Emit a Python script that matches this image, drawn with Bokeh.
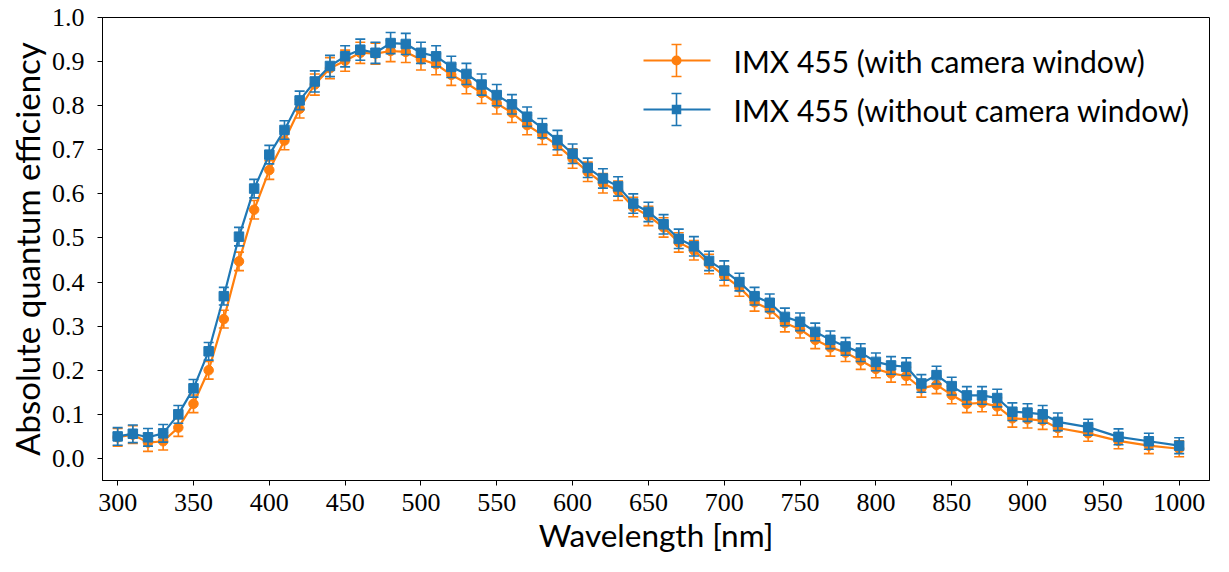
import numpy as np
from bokeh.plotting import figure
from bokeh.models import (Range1d, FixedTicker, NumeralTickFormatter, Label,
                          BoxAnnotation, ColumnDataSource)
from bokeh.embed import file_html
from bokeh.resources import INLINE

# ---------------- data ----------------
wavelength = [300, 310, 320, 330, 340, 350, 360, 370, 380, 390,
              400, 410, 420, 430, 440, 450, 460, 470, 480, 490,
              500, 510, 520, 530, 540, 550, 560, 570, 580, 590,
              600, 610, 620, 630, 640, 650, 660, 670, 680, 690,
              700, 710, 720, 730, 740, 750, 760, 770, 780, 790,
              800, 810, 820, 830, 840, 850, 860, 870, 880, 890,
              900, 910, 920, 940, 960, 980, 1000]

qe_with_window = [0.048, 0.054, 0.036, 0.039, 0.070, 0.124, 0.200, 0.316, 0.447, 0.564,
                  0.654, 0.721, 0.793, 0.848, 0.885, 0.902, 0.920, 0.918, 0.924, 0.922,
                  0.905, 0.894, 0.870, 0.851, 0.829, 0.805, 0.784, 0.756, 0.734, 0.710,
                  0.680, 0.650, 0.624, 0.607, 0.570, 0.550, 0.524, 0.490, 0.472, 0.441,
                  0.414, 0.388, 0.354, 0.338, 0.307, 0.293, 0.269, 0.252, 0.240, 0.222,
                  0.203, 0.193, 0.187, 0.159, 0.167, 0.144, 0.124, 0.126, 0.118, 0.091,
                  0.089, 0.086, 0.069, 0.057, 0.040, 0.029, 0.022]

err_with_window = [0.020, 0.020, 0.020, 0.020, 0.020, 0.020, 0.020, 0.020, 0.021, 0.021,
                   0.021, 0.021, 0.021, 0.024, 0.024, 0.024, 0.024, 0.024, 0.024, 0.024,
                   0.024, 0.024, 0.024, 0.024, 0.024, 0.024, 0.022, 0.022, 0.022, 0.022,
                   0.022, 0.022, 0.022, 0.022, 0.022, 0.022, 0.022, 0.022, 0.022, 0.022,
                   0.022, 0.020, 0.020, 0.020, 0.020, 0.020, 0.020, 0.020, 0.020, 0.020,
                   0.020, 0.020, 0.020, 0.020, 0.020, 0.020, 0.020, 0.020, 0.020, 0.020,
                   0.020, 0.020, 0.020, 0.018, 0.018, 0.018, 0.018]

qe_without_window = [0.050, 0.056, 0.048, 0.057, 0.100, 0.159, 0.243, 0.368, 0.503, 0.612,
                     0.689, 0.745, 0.812, 0.855, 0.890, 0.912, 0.927, 0.920, 0.942, 0.940,
                     0.920, 0.912, 0.888, 0.872, 0.848, 0.824, 0.803, 0.775, 0.749, 0.722,
                     0.691, 0.659, 0.635, 0.617, 0.578, 0.559, 0.531, 0.498, 0.481, 0.448,
                     0.426, 0.400, 0.368, 0.353, 0.321, 0.310, 0.287, 0.269, 0.254, 0.240,
                     0.219, 0.211, 0.208, 0.170, 0.189, 0.164, 0.143, 0.143, 0.137, 0.106,
                     0.104, 0.100, 0.083, 0.071, 0.049, 0.039, 0.029]

err_without_window = [0.020, 0.020, 0.020, 0.020, 0.020, 0.020, 0.020, 0.020, 0.021, 0.021,
                      0.021, 0.021, 0.021, 0.024, 0.024, 0.024, 0.024, 0.024, 0.024, 0.024,
                      0.024, 0.024, 0.024, 0.024, 0.024, 0.024, 0.022, 0.022, 0.022, 0.022,
                      0.022, 0.022, 0.022, 0.022, 0.022, 0.022, 0.022, 0.022, 0.022, 0.022,
                      0.022, 0.020, 0.020, 0.020, 0.020, 0.020, 0.020, 0.020, 0.020, 0.020,
                      0.020, 0.020, 0.020, 0.020, 0.020, 0.020, 0.020, 0.020, 0.020, 0.020,
                      0.020, 0.020, 0.020, 0.018, 0.018, 0.018, 0.018]

x_ticks = [300, 350, 400, 450, 500, 550, 600, 650, 700, 750, 800, 850, 900, 950, 1000]
y_ticks = [0.0, 0.1, 0.2, 0.3, 0.4, 0.5, 0.6, 0.7, 0.8, 0.9, 1.0]

series_labels = ["IMX 455 (with camera window)", "IMX 455 (without camera window)"]
x_label = "Wavelength [nm]"
y_label = "Absolute quantum efficiency"

# ---------------- style ----------------
ORANGE = "#ff7f0e"
BLUE = "#1f77b4"
SANS = "Lato"
SERIF = "Liberation Serif"

p = figure(width=1213, height=556, output_backend="svg", toolbar_location=None,
           x_range=Range1d(290, 1020), y_range=Range1d(-0.05, 1.0),
           min_border_left=102, min_border_right=4, min_border_top=17,
           min_border_bottom=75)
p.background_fill_color = "white"
p.border_fill_color = "white"
p.outline_line_color = "black"
p.outline_line_alpha = 1.0
p.outline_line_width = 1
p.xgrid.visible = False
p.ygrid.visible = False

p.xaxis.ticker = FixedTicker(ticks=x_ticks)
p.yaxis.ticker = FixedTicker(ticks=y_ticks)
p.yaxis.formatter = NumeralTickFormatter(format="0.0")
p.xaxis.axis_label = x_label
p.yaxis.axis_label = y_label
for ax in (p.xaxis, p.yaxis):
    ax.axis_label_text_font = SANS
    ax.axis_label_text_font_style = "normal"
    ax.axis_label_text_color = "black"
    ax.major_label_text_font = SERIF
    ax.major_label_text_font_size = "26px"
    ax.major_label_text_color = "black"
    ax.axis_line_color = "black"
    ax.major_tick_line_color = "black"
    ax.major_tick_out = 5
    ax.major_tick_in = 0
    ax.minor_tick_line_color = None
p.xaxis.axis_label_text_font_size = "31.5px"
p.yaxis.axis_label_text_font_size = "33px"
p.xaxis.major_label_standoff = 8
p.xaxis.axis_label_standoff = 2
p.yaxis.major_label_standoff = 13
p.yaxis.axis_label_standoff = 2


def draw_series(values, errors, color, marker):
    x = np.array(wavelength, dtype=float)
    y = np.array(values, dtype=float)
    e = np.array(errors, dtype=float)
    src = ColumnDataSource(dict(x=x, y=y, lo=y - e, hi=y + e))
    p.segment(x0="x", y0="lo", x1="x", y1="hi", source=src,
              line_color=color, line_width=1.6)
    p.scatter("x", "lo", source=src, marker="dash", size=10,
              line_color=color, line_width=1.6)
    p.scatter("x", "hi", source=src, marker="dash", size=10,
              line_color=color, line_width=1.6)
    p.line("x", "y", source=src, line_color=color, line_width=2.2)
    p.scatter("x", "y", source=src, marker=marker, size=9.5,
              fill_color=color, line_color=color)


draw_series(qe_with_window, err_with_window, ORANGE, "circle")
draw_series(qe_without_window, err_without_window, BLUE, "square")


# ---------------- legend (frame-relative screen units) ----------------
def box(left, right, bottom, top, color, radius=0):
    b = BoxAnnotation(left=left, right=right, bottom=bottom, top=top,
                      left_units="screen", right_units="screen",
                      bottom_units="screen", top_units="screen",
                      fill_color=color, fill_alpha=1.0, line_color=None,
                      border_radius=radius)
    p.add_layout(b)


def legend_entry(yc, color, round_marker, text):
    xc = 574
    box(541, 608, yc - 1, yc + 1, color)                 # line
    box(xc - 0.8, xc + 0.8, yc - 16, yc + 16, color)     # error bar
    box(xc - 5, xc + 5, yc + 15.2, yc + 16.8, color)     # upper cap
    box(xc - 5, xc + 5, yc - 16.8, yc - 15.2, color)     # lower cap
    if round_marker:
        box(xc - 5, xc + 5, yc - 5, yc + 5, color, radius=5)
    else:
        box(xc - 4.75, xc + 4.75, yc - 4.75, yc + 4.75, color)
    p.add_layout(Label(x=631, y=yc, x_units="screen", y_units="screen",
                       text=text, text_baseline="middle", text_align="left",
                       text_font=SANS, text_font_size="30px",
                       text_color="black"))


legend_entry(420, ORANGE, True, series_labels[0])
legend_entry(371, BLUE, False, series_labels[1])

open("out.html", "w").write(file_html(p, INLINE))
